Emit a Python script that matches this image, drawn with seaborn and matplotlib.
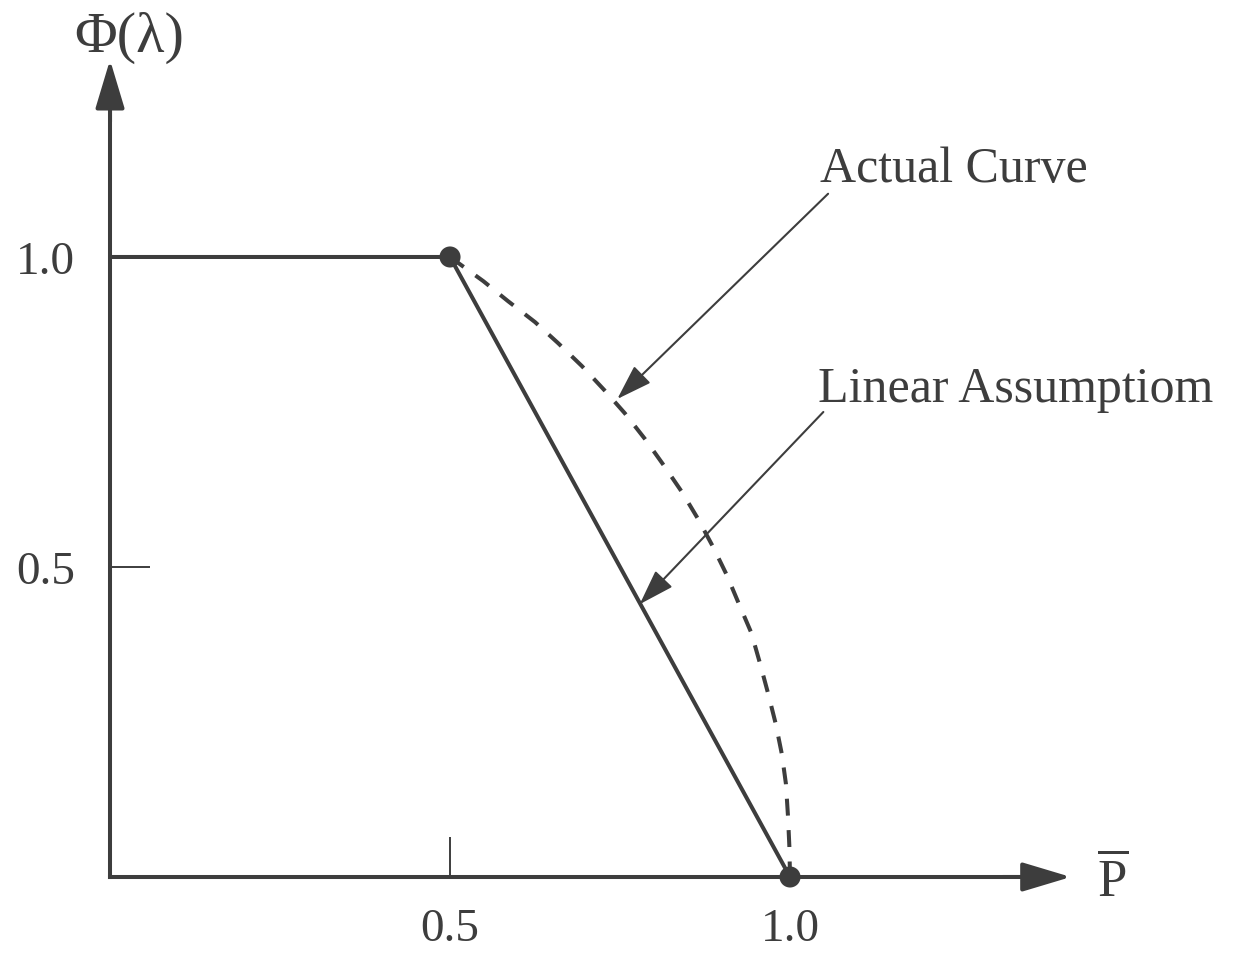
import matplotlib
matplotlib.use("Agg")
import matplotlib.pyplot as plt
import seaborn as sns
import pandas as pd

# Piecewise-linear assumption: plateau then straight drop
linear_p = [0.0, 0.5, 1.0]
linear_phi = [1.0, 1.0, 0.0]

# Actual (nonlinear) curve between the two break points
actual_p = [0.500, 0.549, 0.585, 0.625, 0.659, 0.694, 0.728, 0.757, 0.787,
            0.813, 0.841, 0.865, 0.887, 0.907, 0.925, 0.943, 0.956, 0.968,
            0.979, 0.988, 0.994, 0.997, 0.999, 1.000]
actual_phi = [1.000, 0.961, 0.929, 0.895, 0.861, 0.824, 0.784, 0.748, 0.706,
              0.666, 0.621, 0.577, 0.532, 0.487, 0.440, 0.394, 0.344, 0.295,
              0.247, 0.198, 0.150, 0.098, 0.050, 0.000]

# Break points marked with dots
break_p = [0.5, 1.0]
break_phi = [1.0, 0.0]

tick_values = [0.5, 1.0]
tick_labels = ["0.5", "1.0"]

INK = "#3d3d3d"

sns.set_theme(style="white")
plt.rcParams["font.family"] = ["Liberation Serif", "DejaVu Serif"]
plt.rcParams["mathtext.fontset"] = "custom"
plt.rcParams["mathtext.rm"] = "Liberation Serif"
plt.rcParams["mathtext.it"] = "Liberation Serif:italic"

fig = plt.figure(figsize=(12.34, 9.54), dpi=100)
ax = fig.add_axes([0, 0, 1, 1])
ax.set_xlim(-0.1618, 1.6529)
ax.set_ylim(-0.1226, 1.4161)

linear_df = pd.DataFrame({"p": linear_p, "phi": linear_phi})
actual_df = pd.DataFrame({"p": actual_p, "phi": actual_phi})
break_df = pd.DataFrame({"p": break_p, "phi": break_phi})

sns.lineplot(data=linear_df, x="p", y="phi", sort=False, ax=ax,
             color=INK, lw=2.9, zorder=3)
line = sns.lineplot(data=actual_df, x="p", y="phi", sort=False, ax=ax,
                    color=INK, lw=2.9, zorder=3).lines[-1]
line.set_dashes((4.2, 3.6))
sns.scatterplot(data=break_df, x="p", y="phi", ax=ax, color=INK, s=230,
                edgecolor="none", zorder=5)

# Axes drawn as arrows through the origin
x_tip, y_tip = 1.413, 1.318
for side in ("top", "right"):
    ax.spines[side].set_visible(False)
ax.spines["left"].set_position(("data", 0))
ax.spines["bottom"].set_position(("data", 0))
ax.spines["left"].set_bounds(0, y_tip - 0.03)
ax.spines["bottom"].set_bounds(0, x_tip - 0.03)
for side in ("left", "bottom"):
    ax.spines[side].set_color(INK)
    ax.spines[side].set_linewidth(2.9)

head = "-|>,head_length=30,head_width=9"
ax.annotate("", xy=(0, y_tip), xytext=(0, y_tip - 0.1),
            arrowprops=dict(arrowstyle=head, color=INK, lw=2.9,
                            shrinkA=0, shrinkB=0, mutation_scale=1))
ax.annotate("", xy=(x_tip, 0), xytext=(x_tip - 0.1, 0),
            arrowprops=dict(arrowstyle=head, color=INK, lw=2.9,
                            shrinkA=0, shrinkB=0, mutation_scale=1))

ax.set_xticks(tick_values)
ax.set_xticklabels(tick_labels)
ax.set_yticks(tick_values)
ax.set_yticklabels(tick_labels)
ax.tick_params(axis="both", direction="in", length=29, width=1.4,
               color=INK, labelcolor=INK, labelsize=34,
               bottom=True, left=True, top=False, right=False)
ax.tick_params(axis="x", pad=22)
ax.tick_params(axis="y", pad=25)
ax.xaxis.get_major_ticks()[1].tick1line.set_visible(False)
ax.yaxis.get_major_ticks()[1].tick1line.set_visible(False)
ax.set_xlabel("")
ax.set_ylabel("")
ax.grid(False)

# Axis names
ax.text(0.029, 1.355, "\u03a6(\u03bb)", fontsize=42, color=INK,
        ha="center", va="center")
ax.text(1.475, -0.005, r"$\overline{\mathrm{P}}$", fontsize=38, color=INK,
        ha="center", va="center")

# Callouts
call = dict(arrowstyle="-|>,head_length=1.0,head_width=0.33", color=INK,
            lw=1.5, shrinkA=0, shrinkB=0, mutation_scale=22)
ax.annotate("", xy=(0.746, 0.771), xytext=(1.056, 1.102), arrowprops=call)
ax.annotate("", xy=(0.779, 0.440), xytext=(1.049, 0.750), arrowprops=call)
ax.text(1.044, 1.123, "Actual Curve", fontsize=36, color=INK,
        ha="left", va="baseline")
ax.text(1.041, 0.768, "Linear Assumptiom", fontsize=36, color=INK,
        ha="left", va="baseline")

fig.savefig("out.png", dpi=100, facecolor="white")
